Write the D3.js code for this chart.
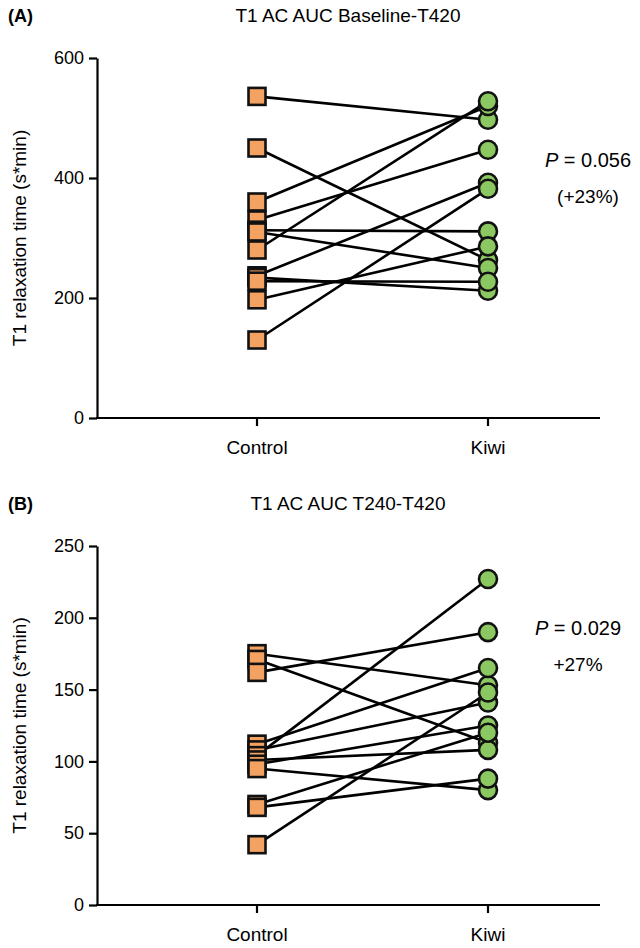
<!DOCTYPE html>
<html>
<head>
<meta charset="utf-8">
<script src="https://cdn.jsdelivr.net/npm/d3@7"></script>
<style>
  body { margin: 0; background: #fff; }
  svg { font-family: "Liberation Sans", Arial, sans-serif; }
</style>
</head>
<body>
<script>
const groups = ["Control", "Kiwi"];

// panel A: T1 AC AUC Baseline-T420
const controlA = [536, 450, 360, 330, 313, 310, 280, 237, 234, 228, 197, 130];
const kiwiA    = [497, 263, 520, 447, 311, 250, 528, 392, 212, 227, 286, 382];
const ticksA = [0, 200, 400, 600];

// panel B: T1 AC AUC T240-T420
const controlB = [175, 171, 162, 112, 108, 104, 101, 98, 95, 70, 68, 42];
const kiwiB    = [153, 113, 190, 165, 141, 227, 108, 125, 80, 120, 88, 148];
const ticksB = [0, 50, 100, 150, 200, 250];

const w = 640;
const h = 948;

const svg = d3.select("body")
  .append("svg")
  .attr("width", w)
  .attr("height", h);

function panel(opts) {
  const g = svg.append("g");

  const xScale = d3.scalePoint()
    .domain(groups)
    .range([257, 488]);

  const yScale = d3.scaleLinear()
    .domain([0, opts.max])
    .range([opts.bottom, opts.top]);

  // panel letter and title
  g.append("text")
    .attr("x", 8)
    .attr("y", opts.top - 36)
    .attr("font-weight", "bold")
    .attr("font-size", 18)
    .text(opts.letter);

  g.append("text")
    .attr("x", 348)
    .attr("y", opts.top - 36)
    .attr("text-anchor", "middle")
    .attr("font-size", 19)
    .text(opts.title);

  // axes
  const yAxis = d3.axisLeft(yScale)
    .tickValues(opts.ticks)
    .tickSize(8)
    .tickPadding(5)
    .tickSizeOuter(0);

  const ya = g.append("g")
    .attr("transform", "translate(97,0)")
    .call(yAxis);
  ya.select(".domain").attr("stroke-width", 2.2);
  ya.selectAll(".tick line").attr("stroke-width", 2.2);
  ya.selectAll(".tick text")
    .attr("font-size", 18)
    .attr("font-family", "Liberation Sans, Arial, sans-serif")
    .attr("fill", "#000");

  const xa = g.append("g")
    .attr("transform", "translate(0," + opts.bottom + ")");
  xa.append("line")
    .attr("x1", 96)
    .attr("x2", 600)
    .attr("stroke", "#000")
    .attr("stroke-width", 2.2);
  xa.selectAll(".xt")
    .data(groups)
    .enter()
    .append("line")
    .attr("x1", d => xScale(d))
    .attr("x2", d => xScale(d))
    .attr("y1", 0)
    .attr("y2", 8)
    .attr("stroke", "#000")
    .attr("stroke-width", 2.2);
  xa.selectAll(".xl")
    .data(groups)
    .enter()
    .append("text")
    .attr("x", d => xScale(d))
    .attr("y", 36)
    .attr("text-anchor", "middle")
    .attr("font-size", 19)
    .text(d => d);

  g.append("text")
    .attr("transform", "translate(26," + ((opts.top + opts.bottom) / 2) + ") rotate(-90)")
    .attr("text-anchor", "middle")
    .attr("font-size", 19)
    .text("T1 relaxation time (s*min)");

  // paired lines
  const pairs = opts.control.map((c, i) => [c, opts.kiwi[i]]);
  g.selectAll(".pair")
    .data(pairs)
    .enter()
    .append("line")
    .attr("x1", xScale("Control"))
    .attr("x2", xScale("Kiwi"))
    .attr("y1", d => yScale(d[0]))
    .attr("y2", d => yScale(d[1]))
    .attr("stroke", "#000")
    .attr("stroke-width", 2.6);

  // markers
  const s = 17;
  g.selectAll(".sq")
    .data(opts.control)
    .enter()
    .append("rect")
    .attr("x", xScale("Control") - s / 2)
    .attr("y", d => yScale(d) - s / 2)
    .attr("width", s)
    .attr("height", s)
    .attr("fill", "#F4A261")
    .attr("stroke", "#111")
    .attr("stroke-width", 2.6);

  g.selectAll(".dot")
    .data(opts.kiwi)
    .enter()
    .append("circle")
    .attr("cx", xScale("Kiwi"))
    .attr("cy", d => yScale(d))
    .attr("r", 9)
    .attr("fill", "#8CC862")
    .attr("stroke", "#111")
    .attr("stroke-width", 2.6);

  // p value annotation
  const p = g.append("text")
    .attr("x", opts.pX)
    .attr("y", opts.pY)
    .attr("text-anchor", "middle")
    .attr("font-size", 20);
  p.append("tspan").attr("font-style", "italic").text("P");
  p.append("tspan").text(" = " + opts.p);

  g.append("text")
    .attr("x", opts.pX)
    .attr("y", opts.pY + 36)
    .attr("text-anchor", "middle")
    .attr("font-size", 19)
    .text(opts.pct);
}

panel({
  letter: "(A)",
  title: "T1 AC AUC Baseline-T420",
  control: controlA,
  kiwi: kiwiA,
  ticks: ticksA,
  max: 600,
  top: 58,
  bottom: 418,
  pX: 588,
  pY: 167,
  p: "0.056",
  pct: "(+23%)"
});

panel({
  letter: "(B)",
  title: "T1 AC AUC T240-T420",
  control: controlB,
  kiwi: kiwiB,
  ticks: ticksB,
  max: 250,
  top: 546,
  bottom: 905,
  pX: 578,
  pY: 635,
  p: "0.029",
  pct: "+27%"
});
</script>
</body>
</html>
